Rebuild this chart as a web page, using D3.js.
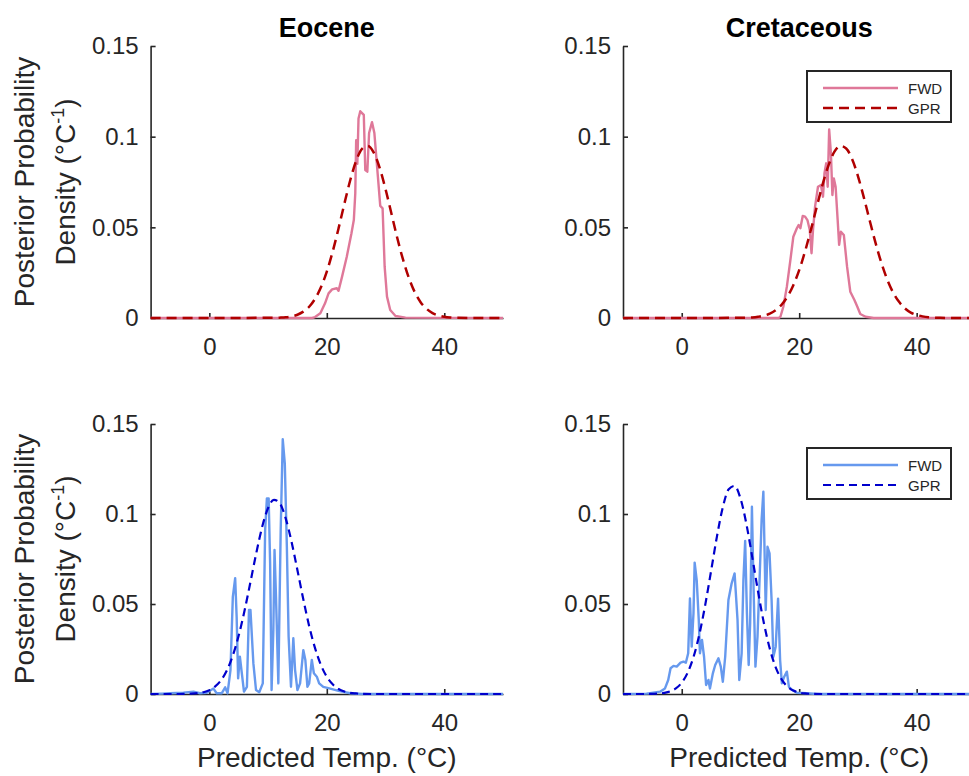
<!DOCTYPE html>
<html>
<head>
<meta charset="utf-8">
<script src="https://cdn.jsdelivr.net/npm/d3@7"></script>
<style>
  body { margin: 0; background: #fff; }
  text { font-family: "Liberation Sans", Arial, sans-serif; fill: #262626; }
</style>
</head>
<body>
<div id="chart"></div>
<script>
// values: [temperature (°C), density]
var titles = ["Eocene", "Cretaceous"]
var xTicks = [0, 20, 40]
var yTicks = [0, 0.05, 0.1, 0.15]
var yTickLabels = ["0", "0.05", "0.1", "0.15"]
var legendNames = ["FWD", "GPR"]

var eoceneFwdTop = [[-10,0],[17.5,0],[18.0,0.0005],[18.9,0.0026],[19.7,0.0081],[20.3,0.0136],[20.9,0.0158],[21.7,0.0164],[22.0,0.015],[22.6,0.0228],[23.4,0.0338],[24.2,0.0467],[24.6,0.054],[24.85,0.0688],[25.0,0.098],[25.2,0.085],[25.4,0.11],[25.7,0.114],[26.0,0.113],[26.3,0.112],[26.55,0.0816],[26.9,0.0807],[27.2,0.102],[27.7,0.108],[28.1,0.102],[28.7,0.078],[29.1,0.0618],[29.5,0.0605],[29.85,0.0283],[30.25,0.0118],[30.8,0.0044],[31.7,0.0011],[33.4,0.0002],[50,0]]
var eoceneGprTop = [[-10,0],[11,0.0001],[12,0.0002],[13,0.0004],[14,0.0009],[15,0.0018],[16,0.0035],[17,0.0062],[18,0.0106],[19,0.0169],[20,0.0256],[21,0.0366],[22,0.0494],[23,0.0631],[24,0.0761],[25,0.0867],[26,0.0933],[27,0.0949],[28,0.0912],[29,0.0828],[30,0.0711],[31,0.0576],[32,0.0441],[33,0.032],[34,0.0219],[35,0.0141],[36,0.0086],[37,0.005],[38,0.0027],[39,0.0014],[40,0.0007],[41,0.0003],[42,0.0001],[44,0],[50,0]]

var cretFwdTop = [[-10,0],[16.5,0],[16.8,0.0007],[17.3,0.0062],[17.9,0.0173],[18.5,0.032],[19.0,0.0448],[19.6,0.0495],[19.9,0.0513],[20.2,0.0495],[20.6,0.0563],[21.0,0.0559],[21.4,0.054],[21.8,0.0485],[22.1,0.0357],[22.35,0.0485],[22.7,0.0614],[23.2,0.0724],[23.7,0.0733],[24.05,0.0669],[24.3,0.0798],[24.6,0.0853],[24.85,0.0724],[25.1,0.104],[25.4,0.0908],[25.65,0.0678],[25.9,0.077],[26.2,0.0724],[26.55,0.054],[26.8,0.0403],[27.1,0.0476],[27.6,0.0458],[28.15,0.0283],[28.7,0.0145],[29.4,0.0099],[29.9,0.0062],[30.4,0.0022],[31.3,0.0007],[32.7,0],[50,0]]
var cretGprTop = [[-10,0],[11,0.0001],[12,0.0003],[13,0.0007],[14,0.0013],[15,0.0024],[16,0.0043],[17,0.0073],[18,0.0118],[19,0.0181],[20,0.0264],[21,0.0368],[22,0.0487],[23,0.0614],[24,0.0738],[25,0.0843],[26,0.0917],[27,0.0949],[28,0.0935],[29,0.0877],[30,0.0783],[31,0.0665],[32,0.0538],[33,0.0414],[34,0.0303],[35,0.0211],[36,0.014],[37,0.0089],[38,0.0053],[39,0.003],[40,0.0017],[41,0.0009],[42,0.0004],[43,0.0002],[44,0.0001],[46,0],[50,0]]

var eoceneFwdBot = [[-10,0],[-8,0.0002],[-6.7,0.0004],[-4.4,0.0007],[-2.7,0.0013],[-1.6,0.0004],[-0.45,0.0007],[0.7,0.003],[1.25,0.0004],[2.1,0.0004],[2.7,0.0037],[3.1,0.0004],[3.6,0.0133],[4.0,0.054],[4.4,0.0643],[4.65,0.043],[4.9,0.0087],[5.2,0.0207],[5.6,0.0096],[5.9,0.0013],[6.4,0.004],[6.75,0.0467],[7.0,0.0467],[7.5,0.017],[7.95,0.0022],[8.5,0.001],[9.1,0.0059],[9.5,0.091],[9.8,0.1087],[10.1,0.1087],[10.35,0.0726],[10.6,0.0022],[10.9,0.0356],[11.1,0.08],[11.35,0.054],[11.75,0.0059],[12.15,0.091],[12.5,0.1415],[12.85,0.128],[13.2,0.0818],[13.5,0.0318],[13.9,0.004],[14.1,0.017],[14.3,0.031],[14.6,0.0133],[15.0,0.0022],[15.45,0.0059],[16.0,0.0244],[16.35,0.0189],[16.7,0.004],[17.0,0.0059],[17.45,0.0189],[17.8,0.0115],[18.3,0.0096],[18.7,0.0059],[19.4,0.004],[20.6,0.003],[22.0,0.0017],[24,0.0004],[26,0],[50,0]]
var eoceneGprBot = [[-10,0],[-5,0],[-4,0.0001],[-3,0.0002],[-2,0.0005],[-1,0.001],[0,0.0021],[1,0.0042],[2,0.0077],[3,0.0132],[4,0.0214],[5,0.0325],[6,0.0464],[7,0.0622],[8,0.0784],[9,0.0929],[10,0.1033],[11,0.1079],[12,0.1059],[13,0.0976],[14,0.0845],[15,0.0688],[16,0.0526],[17,0.0377],[18,0.0255],[19,0.0161],[20,0.0096],[21,0.0054],[22,0.0028],[23,0.0014],[24,0.0006],[25,0.0003],[26,0.0001],[28,0],[50,0]]

var cretFwdBot = [[-10,0],[-6,0.0002],[-5.4,0.0004],[-3.7,0.0013],[-2.85,0.0031],[-2.3,0.0078],[-1.9,0.0143],[-1.4,0.0156],[-0.85,0.0152],[-0.2,0.0174],[0.3,0.018],[0.7,0.0174],[1.1,0.0226],[1.4,0.0531],[1.7,0.0263],[2.0,0.0448],[2.2,0.073],[2.55,0.0633],[2.9,0.0411],[3.1,0.0226],[3.45,0.03],[3.8,0.0207],[4.15,0.005],[4.55,0.0078],[4.8,0.0031],[5.3,0.0115],[5.7,0.0161],[6.25,0.0198],[6.65,0.0152],[7.0,0.0068],[7.4,0.0207],[7.95,0.0522],[8.5,0.0615],[9.0,0.067],[9.5,0.0411],[9.8,0.0078],[10.2,0.0226],[10.5,0.0633],[10.8,0.085],[11.1,0.0448],[11.4,0.0161],[11.65,0.0393],[11.95,0.104],[12.2,0.0633],[12.55,0.0152],[12.9,0.0318],[13.25,0.0633],[13.6,0.0967],[13.9,0.1124],[14.3,0.0467],[14.6,0.0818],[14.95,0.0781],[15.3,0.0522],[15.6,0.0207],[16.0,0.0263],[16.4,0.053],[16.75,0.0189],[17.05,0.0059],[17.45,0.0096],[17.9,0.0124],[18.25,0.004],[18.8,0.0022],[19.6,0.0007],[21.3,0.0004],[23,0],[50,0]]
var cretGprBot = [[-10,0],[-6,0],[-5,0.0001],[-4,0.0002],[-3,0.0006],[-2,0.0014],[-1,0.0031],[0,0.0063],[1,0.0118],[2,0.0205],[3,0.0331],[4,0.0495],[5,0.0684],[6,0.0876],[7,0.1038],[8,0.1138],[9,0.1156],[10,0.1087],[11,0.0946],[12,0.0762],[13,0.0568],[14,0.0392],[15,0.0251],[16,0.0148],[17,0.0081],[18,0.0041],[19,0.0019],[20,0.0008],[21,0.0003],[22,0.0001],[24,0],[50,0]]

var width = 969
var height = 776

var svg = d3.select("#chart").append("svg")
    .attr("width", width)
    .attr("height", height)
    .style("display", "block")

var cols = [[150.6, 503], [623, 975.4]]
var rows = [[318, 46], [694, 424]]

var pinkStyle = { fwd: "#df7899", gpr: "#b00000", dash: "10,6", gw: 2.5 }
var blueStyle = { fwd: "#6699ee", gpr: "#0000cc", dash: "8,5", gw: 2.2 }

var panels = [
  { col: 0, row: 0, fwd: eoceneFwdTop, gpr: eoceneGprTop, st: pinkStyle },
  { col: 1, row: 0, fwd: cretFwdTop, gpr: cretGprTop, st: pinkStyle },
  { col: 0, row: 1, fwd: eoceneFwdBot, gpr: eoceneGprBot, st: blueStyle },
  { col: 1, row: 1, fwd: cretFwdBot, gpr: cretGprBot, st: blueStyle }
]

panels.forEach(function(p) {
  var xScale = d3.scaleLinear().domain([-10, 50]).range(cols[p.col])
  var yScale = d3.scaleLinear().domain([0, 0.15]).range(rows[p.row])
  var g = svg.append("g")

  // axes, ticks inside like matlab
  var xAxis = d3.axisBottom(xScale).tickValues(xTicks).tickSizeInner(-5).tickSizeOuter(0).tickPadding(14)
  var gx = g.append("g")
      .attr("transform", "translate(0," + yScale(0) + ")")
      .call(xAxis)
  var yAxis = d3.axisLeft(yScale).tickValues(yTicks).tickSizeInner(-5).tickSizeOuter(0).tickPadding(12)
      .tickFormat(function(d, i) { return yTickLabels[i] })
  var gy = g.append("g")
      .attr("transform", "translate(" + xScale(-10) + ",0)")
      .call(yAxis)
  g.selectAll(".domain").style("stroke", "#262626").style("stroke-width", 1.6)
  g.selectAll(".tick line").style("stroke", "#262626").style("stroke-width", 1.6)
  g.selectAll(".tick text").style("font-size", "24px").style("fill", "#262626")
      .style("font-family", "'Liberation Sans', Arial, sans-serif")
  gx.selectAll(".tick text").attr("dy", "0.95em")

  var line = d3.line()
      .x(function(d) { return xScale(d[0]) })
      .y(function(d) { return yScale(d[1]) })

  g.append("path")
      .datum(p.fwd)
      .attr("d", line)
      .style("fill", "none")
      .style("stroke", p.st.fwd)
      .style("stroke-width", 2.4)
      .style("stroke-linejoin", "round")

  g.append("path")
      .datum(p.gpr)
      .attr("d", line.curve(d3.curveMonotoneX))
      .style("fill", "none")
      .style("stroke", p.st.gpr)
      .style("stroke-width", p.st.gw)
      .style("stroke-dasharray", p.st.dash)

  var midX = (cols[p.col][0] + cols[p.col][1]) / 2
  var midY = (rows[p.row][0] + rows[p.row][1]) / 2

  if (p.row == 0) {
    g.append("text")
        .attr("x", midX)
        .attr("y", 37)
        .attr("text-anchor", "middle")
        .style("font-size", "27px")
        .style("font-weight", "bold")
        .style("fill", "#000")
        .text(titles[p.col])
  } else {
    g.append("text")
        .attr("x", midX)
        .attr("y", 767)
        .attr("text-anchor", "middle")
        .style("font-size", "28px")
        .text("Predicted Temp. (°C)")
  }

  if (p.col == 0) {
    g.append("text")
        .attr("transform", "translate(34," + midY + ") rotate(-90)")
        .attr("text-anchor", "middle")
        .style("font-size", "28px")
        .text("Posterior Probability")
    var l2 = g.append("text")
        .attr("transform", "translate(75," + midY + ") rotate(-90)")
        .attr("text-anchor", "middle")
        .style("font-size", "28px")
    l2.append("tspan").text("Density (°C")
    l2.append("tspan").attr("dy", -11).style("font-size", "18px").text("-1")
    l2.append("tspan").attr("dy", 11).text(")")
  }

  if (p.col == 1) {
    var top = p.row == 0 ? 71 : 448
    var lg = g.append("g").attr("transform", "translate(807," + top + ")")
    lg.append("rect")
        .attr("width", 144)
        .attr("height", 51)
        .style("fill", "#fff")
        .style("stroke", "#262626")
        .style("stroke-width", 2)
    legendNames.forEach(function(name, i) {
      var yy = 17 + i * 20
      lg.append("line")
          .attr("x1", 16).attr("x2", 91)
          .attr("y1", yy).attr("y2", yy)
          .style("stroke", i == 0 ? p.st.fwd : p.st.gpr)
          .style("stroke-width", i == 0 ? 2.4 : p.st.gw)
          .style("stroke-dasharray", i == 0 ? null : p.st.dash)
      lg.append("text")
          .attr("x", 101)
          .attr("y", yy + 5.5)
          .style("font-size", "15px")
          .text(name)
    })
  }
})
</script>
</body>
</html>
